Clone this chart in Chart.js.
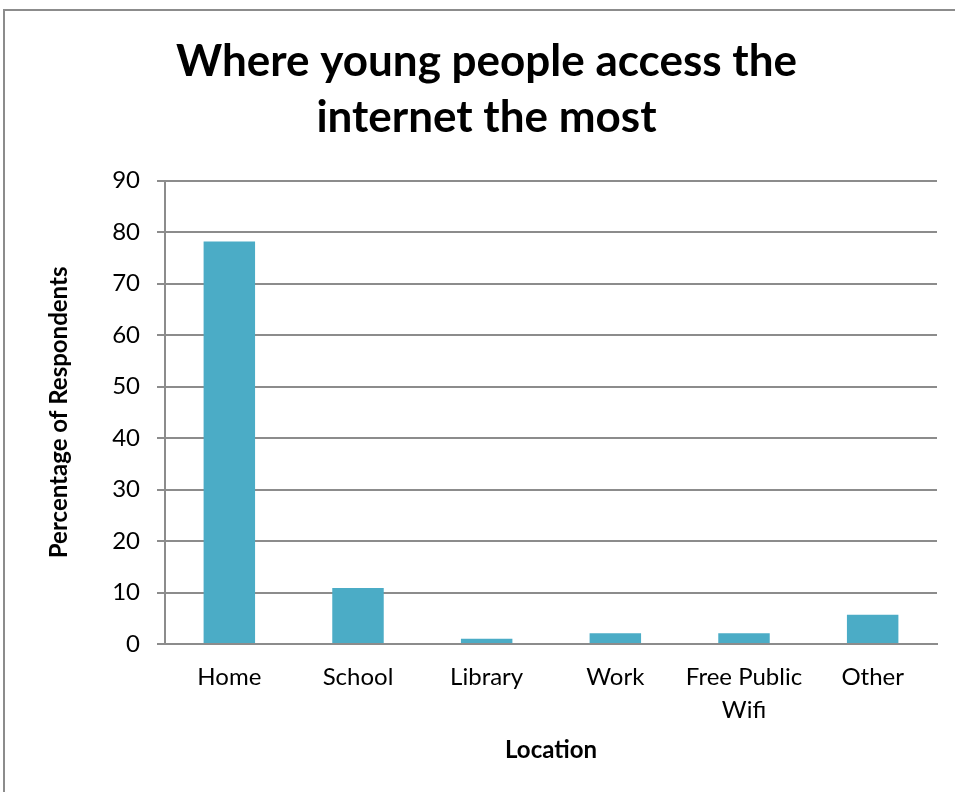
<!DOCTYPE html>
<html>
<head>
<meta charset="utf-8">
<script src="https://cdn.jsdelivr.net/npm/chart.js@4/dist/chart.umd.min.js"></script>
<style>
  html, body { margin: 0; padding: 0; background: #ffffff; overflow: hidden; }
  #frame { position: absolute; left: 3px; top: 9px; width: 2000px; height: 2000px; border: 2px solid #8c8c8c; box-sizing: border-box; pointer-events: none; }
  #wrap { position: absolute; left: 0; top: 0; width: 955px; height: 792px; }
</style>
</head>
<body>
<div id="frame"></div>
<div id="wrap"><canvas id="c" width="955" height="792"></canvas></div>
<script>
const titleLines = ["Where young people access the", "internet the most"];
const categories = ["Home", "School", "Library", "Work", ["Free Public", "Wifi"], "Other"];
const percentages = [78.2, 10.9, 1.0, 2.1, 2.1, 5.7];
const yTickMin = 0, yTickMax = 90, yTickStep = 10;
const xAxisTitle = "Location";
const yAxisTitle = "Percentage of Respondents";

const FONT = "Lato, 'Open Sans', sans-serif";
const GRID = "#8c8c8c";

new Chart(document.getElementById("c"), {
  type: "bar",
  data: {
    labels: categories,
    datasets: [{
      data: percentages,
      backgroundColor: "#4bacc6",
      borderWidth: 0,
      barPercentage: 0.4,
      categoryPercentage: 1.0
    }]
  },
  options: {
    responsive: false,
    animation: false,
    layout: { padding: { left: 36, right: 18, top: 0, bottom: 0 } },
    plugins: {
      legend: { display: false },
      tooltip: { enabled: false },
      title: {
        display: true,
        text: titleLines,
        color: "#000000",
        font: { family: FONT, size: 44, weight: "bold", lineHeight: 1.27 },
        padding: { top: 34, bottom: 35 }
      }
    },
    scales: {
      x: {
        grid: { display: false, drawTicks: false },
        border: { display: true, color: GRID, width: 2 },
        ticks: {
          color: "#000000",
          font: { family: FONT, size: 24, lineHeight: 1.375 },
          padding: 17,
          maxRotation: 0,
          autoSkip: false
        },
        title: {
          display: true,
          text: xAxisTitle,
          color: "#000000",
          font: { family: FONT, size: 24, weight: "bold", lineHeight: 1.2 },
          padding: { top: 0, bottom: 27 }
        },
        afterFit: (s) => { s.height = 148; }
      },
      y: {
        min: yTickMin,
        max: yTickMax,
        ticks: {
          stepSize: yTickStep,
          color: "#000000",
          font: { family: FONT, size: 24 },
          padding: 17
        },
        grid: { color: GRID, lineWidth: 2, tickLength: 8, drawTicks: true },
        border: { display: true, color: GRID, width: 2 },
        title: {
          display: true,
          text: yAxisTitle,
          color: "#000000",
          font: { family: FONT, size: 24, weight: "bold", lineHeight: 1.2 },
          padding: { top: 9, bottom: 0 }
        },
        afterFit: (s) => { s.width = 129; }
      }
    }
  }
});
</script>
</body>
</html>
